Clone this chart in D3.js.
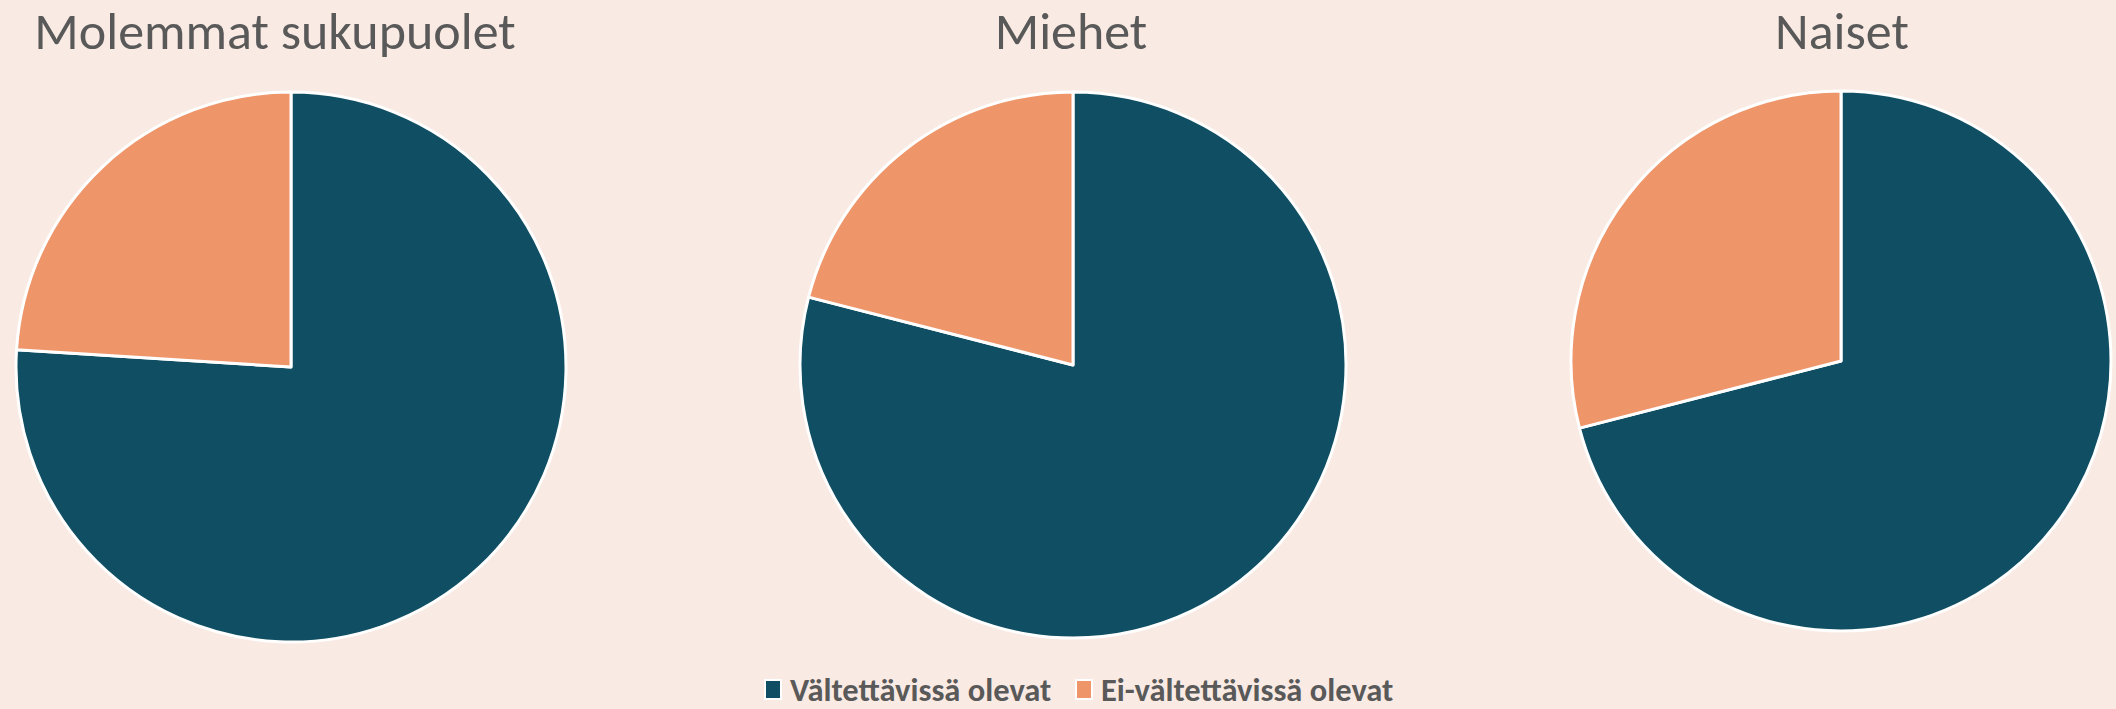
<!DOCTYPE html>
<html>
<head>
<meta charset="utf-8">
<script src="https://cdn.jsdelivr.net/npm/d3@7"></script>
<style>
  html, body { margin: 0; padding: 0; background: #f9eae3; }
  svg { display: block; }
  text { font-family: Carlito, Calibri, Lato, sans-serif; fill: #595959; }
</style>
</head>
<body>
<svg id="chart" width="2116" height="709"></svg>
<script>
// Datos (porcentajes)
const categorias = ["Vältettävissä olevat", "Ei-vältettävissä olevat"];
const grupos = ["Molemmat sukupuolet", "Miehet", "Naiset"];
const molemmat = [76, 24];
const miehet = [79, 21];
const naiset = [71, 29];
const valores = [molemmat, miehet, naiset];

const colores = ["#104f63", "#ee956a"];

const svg = d3.select("#chart");

// Posición de cada tarta y de su título
const centros = [
  { x: 291, y: 367, r: 275, tx: 275 },
  { x: 1073, y: 365, r: 273, tx: 1071 },
  { x: 1841, y: 361, r: 270, tx: 1842 }
];

const color = d3.scaleOrdinal().domain(categorias).range(colores);
const pie = d3.pie().sort(null).value(d => d.valor);

grupos.forEach((g, i) => {
  const c = centros[i];
  const datos = categorias.map((cat, j) => ({ cat, valor: valores[i][j] }));
  const arc = d3.arc().innerRadius(0).outerRadius(c.r);

  const gr = svg.append("g").attr("transform", `translate(${c.x},${c.y})`);
  gr.selectAll("path")
    .data(pie(datos))
    .join("path")
    .attr("d", arc)
    .attr("fill", d => color(d.data.cat))
    .attr("stroke", "#fff")
    .attr("stroke-width", 3)
    .attr("stroke-linejoin", "round");

  // Título
  svg.append("text")
    .attr("x", c.tx)
    .attr("y", 49)
    .attr("text-anchor", "middle")
    .style("font-size", "52px")
    .text(g);
});

// Leyenda (abajo, centrada)
const leyenda = svg.append("g").attr("transform", "translate(765,701)");
const posLeyenda = [0, 311];
categorias.forEach((cat, i) => {
  const it = leyenda.append("g").attr("transform", `translate(${posLeyenda[i]},0)`);
  it.append("rect")
    .attr("x", 0).attr("y", -21)
    .attr("width", 16).attr("height", 19)
    .attr("fill", color(cat))
    .attr("stroke", "#fff")
    .attr("stroke-width", 2);
  it.append("text")
    .attr("x", 25).attr("y", 0)
    .style("font-size", "32.5px")
    .style("font-weight", "bold")
    .text(cat);
});
</script>
</body>
</html>
